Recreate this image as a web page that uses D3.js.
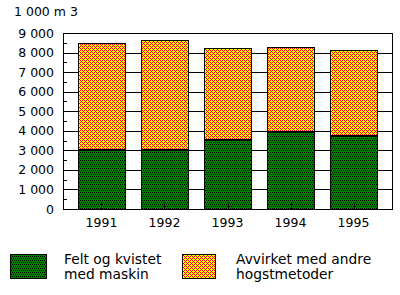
<!DOCTYPE html>
<html>
<head>
<meta charset="utf-8">
<script src="https://cdn.jsdelivr.net/npm/d3@7"></script>
<style>
  body { margin: 0; background: #fff; }
  text { font-family: "DejaVu Sans", sans-serif; fill: #000; }
</style>
</head>
<body>
<div id="container"></div>
<script>
// data (1 000 m3)
const years = ["1991", "1992", "1993", "1994", "1995"];
const maskin = [3080, 3080, 3600, 4010, 3760];
const andre = [5420, 5570, 4640, 4280, 4380];
const yTicks = [0, 1000, 2000, 3000, 4000, 5000, 6000, 7000, 8000, 9000];
const seriesNames = [["Felt og kvistet", "med maskin"], ["Avvirket med andre", "hogstmetoder"]];

const w = 400;
const h = 295;
const pLeft = 63, pRight = 392, pTop = 33, pBottom = 209;

const svg = d3.select("#container").append("svg")
  .attr("width", w).attr("height", h)
  .attr("shape-rendering", "crispEdges");

// dither patterns, 4x4 tiles
const defs = svg.append("defs");
function dither(id, bg, fg, cells) {
  const p = defs.append("pattern").attr("id", id)
    .attr("patternUnits", "userSpaceOnUse").attr("width", 4).attr("height", 4);
  p.append("rect").attr("width", 4).attr("height", 4).attr("fill", bg);
  cells.forEach(c => {
    p.append("rect").attr("x", c[0]).attr("y", c[1])
      .attr("width", 1).attr("height", 1).attr("fill", fg);
  });
}
dither("green", "#008000", "#000", [[0, 0], [2, 0], [1, 2], [3, 2]]);
dither("red", "#ffff00", "#ff0000", [[0, 0], [2, 0], [1, 1], [0, 2], [2, 2], [3, 3]]);

//Scales
const x = d3.scaleBand().domain(years).range([pLeft, pRight])
  .paddingInner(0.254).paddingOuter(0.238);
const y = d3.scaleLinear().domain([0, 9000]).range([pBottom, pTop]);

// grid lines
svg.append("g").selectAll("line")
  .data(yTicks.slice(1, -1))
  .enter().append("line")
  .attr("x1", pLeft).attr("x2", pRight)
  .attr("y1", d => Math.round(y(d)) + 0.5).attr("y2", d => Math.round(y(d)) + 0.5)
  .attr("stroke", "#000");

// minor ticks every 500
svg.append("g").selectAll("line")
  .data(d3.range(500, 9000, 1000))
  .enter().append("line")
  .attr("x1", pLeft).attr("x2", pLeft + 4)
  .attr("y1", d => Math.round(y(d)) + 0.5).attr("y2", d => Math.round(y(d)) + 0.5)
  .attr("stroke", "#000");

// stacked bars
const rows = years.map((yr, i) => ({ yr: yr, a: maskin[i], b: andre[i] }));
const stack = d3.stack().keys(["a", "b"])(rows);
const fills = ["url(#green)", "url(#red)"];

stack.forEach((s, k) => {
  svg.append("g").selectAll("rect")
    .data(s)
    .enter().append("rect")
    .attr("x", d => Math.round(x(d.data.yr)) + 0.5)
    .attr("width", Math.round(x.bandwidth()))
    .attr("y", d => Math.round(y(d[1])) + 0.5)
    .attr("height", d => Math.round(y(d[0])) - Math.round(y(d[1])))
    .attr("fill", fills[k])
    .attr("stroke", "#000");
});

// thicker line where the two segments meet
svg.append("g").selectAll("line")
  .data(stack[0])
  .enter().append("line")
  .attr("x1", d => Math.round(x(d.data.yr)))
  .attr("x2", d => Math.round(x(d.data.yr)) + Math.round(x.bandwidth()) + 1)
  .attr("y1", d => Math.round(y(d[1])) + 1)
  .attr("y2", d => Math.round(y(d[1])) + 1)
  .attr("stroke", "#000").attr("stroke-width", 2);

// x ticks on top of bars
svg.append("g").selectAll("line")
  .data(years)
  .enter().append("line")
  .attr("x1", d => Math.round(x(d) + x.bandwidth() / 2) + 0.5)
  .attr("x2", d => Math.round(x(d) + x.bandwidth() / 2) + 0.5)
  .attr("y1", pBottom).attr("y2", pBottom - 6)
  .attr("stroke", "#000");

// frame
svg.append("rect")
  .attr("x", pLeft + 0.5).attr("y", pTop + 0.5)
  .attr("width", pRight - pLeft).attr("height", pBottom - pTop)
  .attr("fill", "none").attr("stroke", "#000");

// labels
svg.append("g").selectAll("text")
  .data(yTicks)
  .enter().append("text")
  .attr("x", 54).attr("y", d => y(d) + 4.5)
  .attr("text-anchor", "end")
  .style("font-size", "12.5px")
  .text(d => d3.format(",")(d).replace(",", " "));

svg.append("g").selectAll("text")
  .data(years)
  .enter().append("text")
  .attr("x", d => x(d) + x.bandwidth() / 2)
  .attr("y", 226.5)
  .attr("text-anchor", "middle")
  .style("font-size", "12.5px")
  .text(d => d);

svg.append("text")
  .attr("x", 14).attr("y", 16)
  .style("font-size", "12.5px")
  .text("1 000 m 3");

// legend
const legX = [10, 182];
const legW = [36, 33];
seriesNames.forEach((names, i) => {
  svg.append("rect")
    .attr("x", legX[i] + 0.5).attr("y", 254.5)
    .attr("width", legW[i]).attr("height", 24)
    .attr("fill", fills[i]).attr("stroke", "#000");
  names.forEach((t, j) => {
    svg.append("text")
      .attr("x", legX[i] + 54).attr("y", 264 + j * 15)
      .style("font-size", "13.8px")
      .text(t);
  });
});
</script>
</body>
</html>
